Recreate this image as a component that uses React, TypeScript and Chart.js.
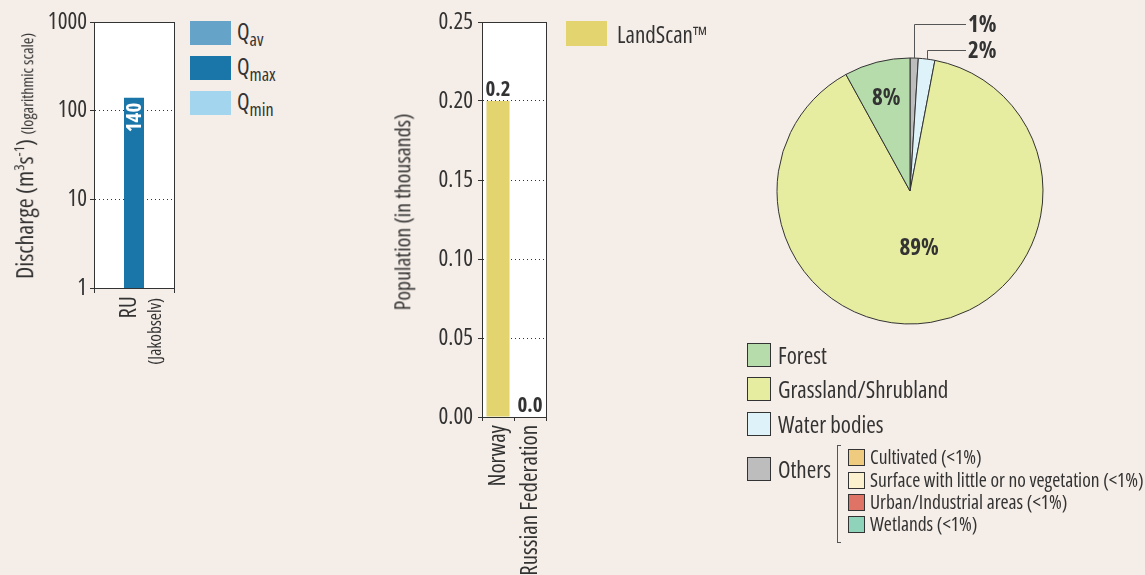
import React, { useEffect, useRef } from "react";
import { Chart, registerables } from "chart.js";
Chart.register(...registerables);

const FONT = "'Open Sans', 'Roboto Condensed', sans-serif";
const STRETCH = "condensed";
const TXT = "#333333";
const BG = "#f5ede7";

// ---- Discharge chart ----
const dischargeCategories = ["RU"];
const dischargeSeriesNames = ["Qav", "Qmax", "Qmin"];
const qAv = [null];
const qMax = [140];
const qMin = [null];
const dischargeColors = ["#66a3c9", "#1a75a8", "#a3d5ef"];
const dischargeTicks = [1, 10, 100, 1000];

// ---- Population chart ----
const popCategories = ["Norway", "Russian Federation"];
const popValues = [0.2, 0.0];
const popTicks = [0, 0.05, 0.1, 0.15, 0.2, 0.25];
const popColor = "#e3d46f";

// ---- Land cover pie ----
const landLabels = ["Others", "Water bodies", "Grassland/Shrubland", "Forest"];
const landValues = [1, 2, 89, 8];
const landColors = ["#bdbdbd", "#def2f9", "#e6eca0", "#b5dcaa"];
const legendOrder = ["Forest", "Grassland/Shrubland", "Water bodies", "Others"];
const othersLabels = [
  "Cultivated (<1%)",
  "Surface with little or no vegetation (<1%)",
  "Urban/Industrial areas (<1%)",
  "Wetlands (<1%)",
];
const othersColors = ["#eecb7e", "#fbf1cf", "#df7366", "#8fd3ba"];

const framePlugin = {
  id: "frame",
  beforeDraw(chart: any) {
    const { ctx, chartArea: a } = chart;
    ctx.save();
    ctx.fillStyle = "#ffffff";
    ctx.fillRect(a.left, a.top, a.right - a.left, a.bottom - a.top);
    ctx.restore();
  },
  afterDraw(chart: any) {
    const { ctx, chartArea: a } = chart;
    const l = Math.round(a.left), t = Math.round(a.top), r = Math.round(a.right), b = Math.round(a.bottom);
    ctx.save();
    ctx.strokeStyle = TXT;
    ctx.lineWidth = 1;
    ctx.strokeRect(l + 0.5, t + 0.5, r - l, b - t);
    ctx.restore();
  },
};

const dischargeLabelPlugin = {
  id: "dischargeLabels",
  afterDatasetsDraw(chart: any) {
    const ctx = chart.ctx;
    chart.data.datasets.forEach((ds: any, di: number) => {
      const meta = chart.getDatasetMeta(di);
      meta.data.forEach((bar: any, i: number) => {
        const v = ds.data[i];
        if (v == null) return;
        ctx.save();
        ctx.translate(bar.x, bar.y + 5);
        ctx.rotate(-Math.PI / 2);
        ctx.font = `bold ${STRETCH} 21px ${FONT}`;
        ctx.fillStyle = "#ffffff";
        ctx.textAlign = "right";
        ctx.textBaseline = "middle";
        ctx.fillText(String(v), 0, 1);
        ctx.restore();
      });
    });
  },
};

const popLabelPlugin = {
  id: "popLabels",
  afterDatasetsDraw(chart: any) {
    const ctx = chart.ctx;
    const meta = chart.getDatasetMeta(0);
    meta.data.forEach((bar: any, i: number) => {
      const v = chart.data.datasets[0].data[i];
      ctx.save();
      ctx.font = `bold ${STRETCH} 21px ${FONT}`;
      ctx.fillStyle = TXT;
      ctx.textAlign = "center";
      ctx.textBaseline = "alphabetic";
      ctx.fillText(Number(v).toFixed(1), bar.x, bar.y - 5);
      ctx.restore();
    });
  },
};

// label placement per slice: inside fraction of radius, or outside leader line height
const pieLabelCfg = [
  { outside: true, rise: 167 },
  { outside: true, rise: 141 },
  { outside: false, r: 0.44 },
  { outside: false, r: 0.72 },
];

const pieLabelPlugin = {
  id: "pieLabels",
  afterDatasetsDraw(chart: any) {
    const ctx = chart.ctx;
    const meta = chart.getDatasetMeta(0);
    meta.data.forEach((arc: any, i: number) => {
      const p = arc.getProps(["x", "y", "startAngle", "endAngle", "outerRadius"], true);
      const mid = (p.startAngle + p.endAngle) / 2;
      const text = `${landValues[i]}%`;
      const cfg = pieLabelCfg[i];
      ctx.save();
      ctx.font = `bold ${STRETCH} 23px ${FONT}`;
      ctx.fillStyle = TXT;
      if (cfg.outside) {
        const ex = Math.round(p.x + Math.cos(mid) * p.outerRadius) + 0.5;
        const ey = p.y + Math.sin(mid) * p.outerRadius;
        const ly = Math.round(p.y - cfg.rise) + 0.5;
        const lx = p.x + 56;
        ctx.strokeStyle = "#555555";
        ctx.lineWidth = 1;
        ctx.beginPath();
        ctx.moveTo(ex, ey);
        ctx.lineTo(ex, ly);
        ctx.lineTo(lx, ly);
        ctx.stroke();
        ctx.textAlign = "left";
        ctx.textBaseline = "middle";
        ctx.fillText(text, lx + 2, ly + 1);
      } else {
        const px = p.x + Math.cos(mid) * p.outerRadius * cfg.r;
        const py = p.y + Math.sin(mid) * p.outerRadius * cfg.r;
        ctx.textAlign = "center";
        ctx.textBaseline = "middle";
        ctx.fillText(text, px, py);
      }
      ctx.restore();
    });
  },
};

const abs = (o: any) => ({ position: "absolute" as const, ...o });

function UpText({ x, top, size, children }: any) {
  return (
    <div
      style={abs({
        left: x,
        top,
        fontSize: size,
        lineHeight: 1.15,
        whiteSpace: "nowrap",
        transformOrigin: "0 0",
        transform: "rotate(-90deg) translate(-100%, -50%)",
      })}
    >
      {children}
    </div>
  );
}

function CenterUpText({ x, y, size, children }: any) {
  return (
    <div
      style={abs({
        left: x,
        top: y,
        fontSize: size,
        lineHeight: 1.15,
        whiteSpace: "nowrap",
        transform: "translate(-50%, -50%) rotate(-90deg)",
      })}
    >
      {children}
    </div>
  );
}

function Box({ x, y, w, h, color, border }: any) {
  return (
    <div
      style={abs({
        left: x,
        top: y,
        width: w,
        height: h,
        background: color,
        boxSizing: "border-box",
        border: border ? "1px solid #333" : "none",
      })}
    />
  );
}

function Label({ x, cy, size, children }: any) {
  return (
    <div
      style={abs({
        left: x,
        top: cy,
        transform: "translateY(-50%)",
        fontSize: size,
        lineHeight: 1.15,
        whiteSpace: "nowrap",
      })}
    >
      {children}
    </div>
  );
}

export default function App() {
  const c1 = useRef<HTMLCanvasElement>(null);
  const c2 = useRef<HTMLCanvasElement>(null);
  const c3 = useRef<HTMLCanvasElement>(null);

  useEffect(() => {
    document.body.style.margin = "0";
    document.body.style.background = BG;
    const tickFont = { family: FONT, size: 23, weight: STRETCH };

    const ch1 = new Chart(c1.current as HTMLCanvasElement, {
      type: "bar",
      data: {
        labels: dischargeCategories,
        datasets: dischargeSeriesNames.map((name, i) => ({
          label: name,
          data: [qAv, qMax, qMin][i] as any,
          backgroundColor: dischargeColors[i],
          categoryPercentage: 0.75,
          barPercentage: 1,
          borderWidth: 0,
        })),
      },
      options: {
        animation: false,
        responsive: false,
        layout: { padding: { top: 22, right: 6, left: 0, bottom: 0 } },
        plugins: { legend: { display: false }, tooltip: { enabled: false } },
        scales: {
          x: {
            afterFit: (s: any) => { s.height = 287; },
            grid: { offset: true, drawOnChartArea: false, tickLength: 5, color: TXT },
            ticks: { display: false },
            border: { color: TXT },
          },
          y: {
            type: "logarithmic",
            min: 1,
            max: 1000,
            afterFit: (s: any) => { s.width = 94; },
            afterBuildTicks: (s: any) => { s.ticks = dischargeTicks.map((v) => ({ value: v })); },
            ticks: { font: tickFont, color: TXT, padding: 3, callback: (v: any) => String(v) },
            grid: { color: TXT, lineWidth: 1, tickLength: 4, tickColor: TXT, tickBorderDash: [] },
            border: { color: TXT, dash: [1, 3] },
          },
        },
      } as any,
      plugins: [framePlugin, dischargeLabelPlugin],
    });

    const ch2 = new Chart(c2.current as HTMLCanvasElement, {
      type: "bar",
      data: {
        labels: popCategories,
        datasets: [
          {
            label: "LandScan™",
            data: popValues,
            backgroundColor: popColor,
            categoryPercentage: 0.72,
            barPercentage: 1,
            borderWidth: 0,
          },
        ],
      },
      options: {
        animation: false,
        responsive: false,
        layout: { padding: { top: 22, right: 24, left: 0, bottom: 0 } },
        plugins: { legend: { display: false }, tooltip: { enabled: false } },
        scales: {
          x: {
            afterFit: (s: any) => { s.height = 158; },
            grid: { offset: true, drawOnChartArea: false, tickLength: 4, color: TXT },
            ticks: { font: tickFont, color: TXT, padding: 4, maxRotation: 90, minRotation: 90, autoSkip: false },
            border: { color: TXT },
          },
          y: {
            min: 0,
            max: 0.25,
            afterFit: (s: any) => { s.width = 92; },
            afterBuildTicks: (s: any) => { s.ticks = popTicks.map((v) => ({ value: v })); },
            ticks: { font: tickFont, color: TXT, padding: 5, callback: (v: any) => Number(v).toFixed(2) },
            grid: { color: TXT, lineWidth: 1, tickLength: 4, tickColor: TXT, tickBorderDash: [] },
            border: { color: TXT, dash: [1, 3] },
          },
        },
      } as any,
      plugins: [framePlugin, popLabelPlugin],
    });

    const ch3 = new Chart(c3.current as HTMLCanvasElement, {
      type: "pie",
      data: {
        labels: landLabels,
        datasets: [
          {
            data: landValues,
            backgroundColor: landColors,
            borderColor: TXT,
            borderWidth: 1,
            radius: 133,
          } as any,
        ],
      },
      options: {
        animation: false,
        responsive: false,
        layout: { padding: 0 },
        plugins: { legend: { display: false }, tooltip: { enabled: false } },
      } as any,
      plugins: [pieLabelPlugin],
    });

    return () => {
      ch1.destroy();
      ch2.destroy();
      ch3.destroy();
    };
  }, []);

  const legendTops = [343, 377, 412, 457];
  const subTops = [449, 472, 494, 516];

  return (
    <div
      style={{
        position: "fixed",
        left: 0,
        top: 0,
        width: 1145,
        height: 575,
        background: BG,
        overflow: "hidden",
        fontFamily: FONT,
        fontStretch: STRETCH,
        color: TXT,
      }}
    >
      <canvas ref={c1} width={180} height={575} style={abs({ left: 0, top: 0 })} />
      <canvas ref={c2} width={180} height={575} style={abs({ left: 390, top: 0 })} />
      <canvas ref={c3} width={300} height={382} style={abs({ left: 760, top: 0 })} />

      {/* discharge axis title */}
      <CenterUpText x={24} y={156} size={24}>
        Discharge (m<sup style={{ fontSize: 15 }}>3</sup>s<sup style={{ fontSize: 15 }}>-1</sup>){" "}
        <span style={{ fontSize: 16 }}>(logarithmic scale)</span>
      </CenterUpText>
      <UpText x={127} top={296} size={23}>RU</UpText>
      <UpText x={154} top={298} size={17.5}>(Jakobselv)</UpText>

      {/* discharge legend */}
      {dischargeSeriesNames.map((n, i) => (
        <React.Fragment key={n}>
          <Box x={190} y={[21, 56, 91][i]} w={41} h={24} color={dischargeColors[i]} />
          <Label x={237} cy={[21, 56, 91][i] + 13} size={23}>
            Q<sub style={{ fontSize: 18 }}>{n.slice(1)}</sub>
          </Label>
        </React.Fragment>
      ))}

      {/* population title + legend */}
      <CenterUpText x={402} y={212} size={22}>Population (in thousands)</CenterUpText>
      <Box x={566} y={21} w={41} h={25} color={popColor} />
      <Label x={617} cy={34} size={23}>LandScan™</Label>

      {/* land cover legend */}
      {legendOrder.map((name, i) => (
        <React.Fragment key={name}>
          <Box x={747} y={legendTops[i]} w={24} h={24} color={landColors[landLabels.indexOf(name)]} border />
          <Label x={778} cy={legendTops[i] + 12} size={23}>{name}</Label>
        </React.Fragment>
      ))}
      <div style={abs({ left: 837, top: 445, width: 4, height: 98, borderLeft: "1px solid #555", borderTop: "1px solid #555", borderBottom: "1px solid #555", boxSizing: "border-box" })} />
      {othersLabels.map((name, i) => (
        <React.Fragment key={name}>
          <Box x={848} y={subTops[i]} w={17} h={17} color={othersColors[i]} border />
          <Label x={870} cy={subTops[i] + 8} size={19.5}>{name}</Label>
        </React.Fragment>
      ))}
    </div>
  );
}
